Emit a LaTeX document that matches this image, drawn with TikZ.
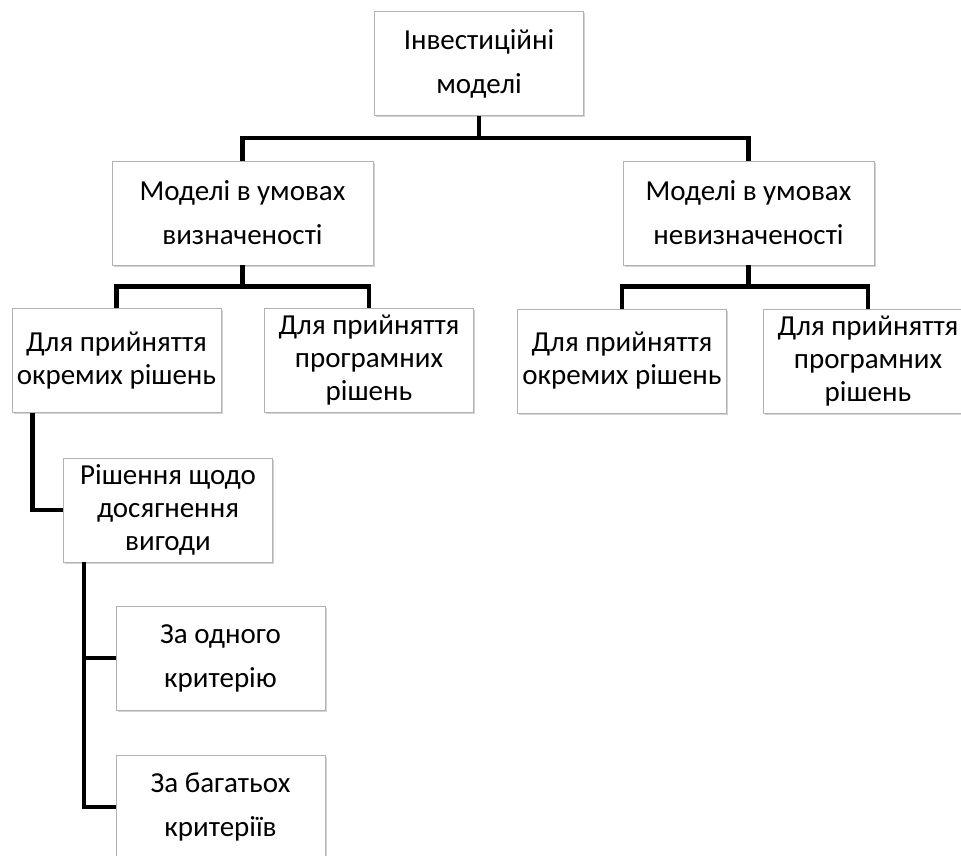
\documentclass[tikz,border=0pt]{standalone}
\usepackage{fontspec}
\setmainfont{Carlito}
\usetikzlibrary{positioning}
\usetikzlibrary{calc}
\usetikzlibrary{shadows}

\tikzset{
  modelbox/.style={draw=gray!60, fill=white, line width=0.8pt, inner sep=0pt,
    minimum width=209, minimum height=104, align=center,
    font=\fontsize{29}{33}\selectfont,
    drop shadow={shadow xshift=1.5pt, shadow yshift=-1.5pt, opacity=0.35}},
  widebox/.style={modelbox, font=\fontsize{29}{44}\selectfont},
  link/.style={line width=4.5pt, black}
}

\begin{document}
\begin{tikzpicture}[x=1pt,y=-1pt]
\useasboundingbox (0,0) rectangle (961,856);

\node[widebox](top) at (479,63.5){Інвестиційні\\моделі};
\node[widebox, minimum width=261](certain) at (242.5,213){Моделі в умовах\\визначеності};
\node[widebox, minimum width=251](uncertain) at (748.5,213){Моделі в умовах\\невизначеності};
\node[modelbox](certSingle) at (116.5,360.5){Для прийняття\\окремих рішень};
\node[modelbox](certProg) at (369,360.5){Для прийняття\\програмних\\рішень};
\node[modelbox](uncSingle) at (622,361){Для прийняття\\окремих рішень};
\node[modelbox](uncProg) at (868,361){Для прийняття\\програмних\\рішень};
\node[modelbox](benefit) at (168,510){Рішення щодо\\досягнення\\вигоди};
\node[widebox](oneCrit) at (220.5,658){За одного\\критерію};
\node[widebox](manyCrit) at (220.5,807){За багатьох\\критеріїв};

\draw[link](top.south)--++(0,22)-|(certain.north);
\draw[link](top.south)--++(0,22)-|(uncertain.north);
\draw[link](certain.south)--++(0,21)-|(certSingle.north);
\draw[link](certain.south)--++(0,21)-|(certProg.north);
\draw[link](uncertain.south)--++(0,21)-|(uncSingle.north);
\draw[link](uncertain.south)--++(0,21)-|(uncProg.north);
\draw[link]([xshift=21]certSingle.south west)|-(benefit.west);
\draw[link]([xshift=21]benefit.south west)|-(oneCrit.west);
\draw[link]([xshift=21]benefit.south west)|-(manyCrit.west);
\end{tikzpicture}
\end{document}
